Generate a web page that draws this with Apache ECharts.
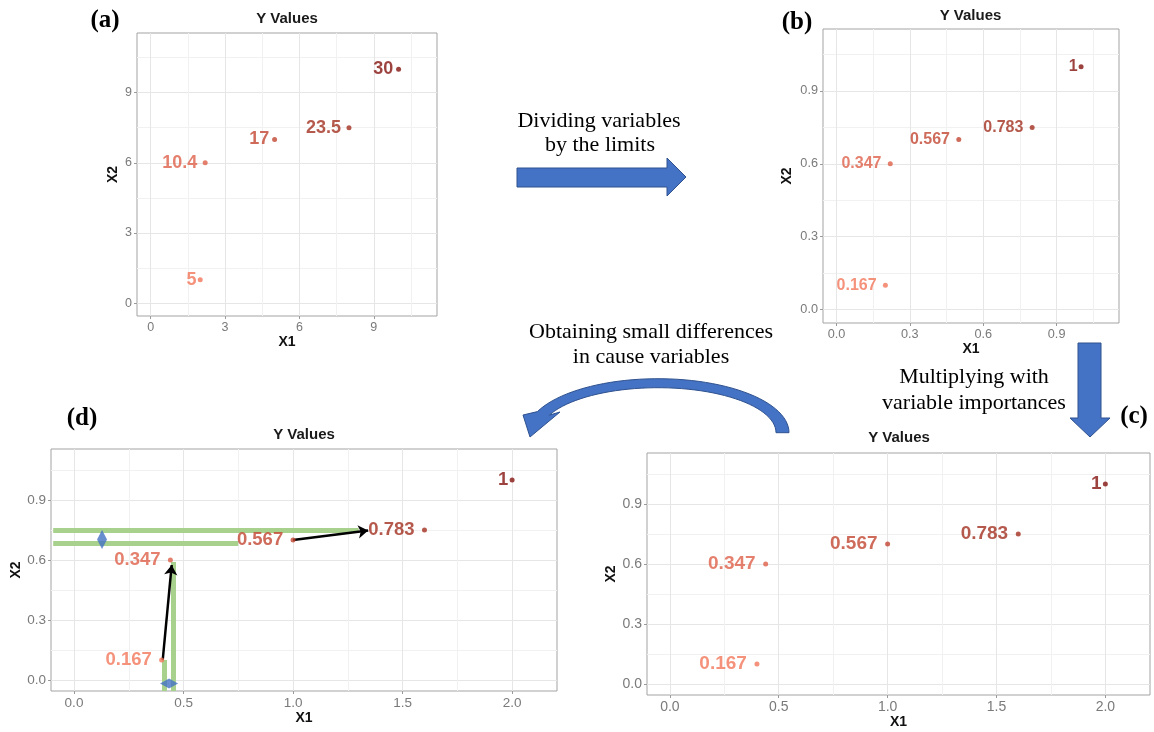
<!DOCTYPE html>
<html>
<head>
<meta charset="utf-8">
<script src="https://cdn.jsdelivr.net/npm/echarts@6/dist/echarts.min.js"></script>
<style>
  html, body { margin: 0; padding: 0; background: #fff; }
  #chart { width: 1154px; height: 732px; }
</style>
</head>
<body>
<div id="chart"></div>
<script>
// ---- Observations: original scale (a) ----
const x1Raw = [2, 2.2, 5, 8, 10];
const x2Raw = [1, 6, 7, 7.5, 10];
const yRaw = [5, 10.4, 17, 23.5, 30];

// ---- Divided by the variable limits (b) ----
const x1Scaled = [0.2, 0.22, 0.5, 0.8, 1];
const x2Scaled = [0.1, 0.6, 0.7, 0.75, 1];
const yScaled = [0.167, 0.347, 0.567, 0.783, 1];

// ---- Multiplied by variable importances (c, d) ----
const x1Weighted = [0.4, 0.44, 1, 1.6, 2];
const x2Weighted = [0.1, 0.6, 0.7, 0.75, 1];

// ---- Tick values ----
const ticksRaw = [0, 3, 6, 9];
const ticksUnit = [0, 0.3, 0.6, 0.9];
const ticksWide = [0, 0.5, 1, 1.5, 2];

// ---- Axis limits (data range plus 5% padding) ----
const limRaw = [-0.55, 11.55];
const limUnit = [-0.055, 1.155];
const limWide = [-0.105, 2.205];

// ---- Panel (d): neighbour differences ----
const guideLines = [
  [[-0.095, 0.75], [1.30, 0.75]],
  [[-0.095, 0.685], [0.75, 0.685]],
  [[0.453, 0.59], [0.453, -0.055]],
  [[0.411, 0.10], [0.411, -0.055]]
];
const shiftArrows = [
  [[0.405, 0.10], [0.446, 0.575]],
  [[1.0, 0.70], [1.343, 0.747]]
];
const gapMarks = [[0.128, 0.703], [0.434, -0.017]];

// colour per Y level, light (low) to dark (high)
const levelColors = ['#F2775A', '#DD6048', '#C24632', '#A33021', '#85140F'];

const SANS = '"Liberation Sans", Arial, sans-serif';
const SERIF = '"Liberation Serif", "Times New Roman", serif';

const measureCtx = document.createElement('canvas').getContext('2d');
function labelGap(text, size) {
  measureCtx.font = 'bold ' + size + 'px ' + SANS;
  const w = measureCtx.measureText(text).width;
  return Math.max(0, 2 + 0.17 * w - 2.5);
}

const grids = [
  { left: 137, top: 33, width: 300, height: 283 },
  { left: 823, top: 29, width: 296, height: 294 },
  { left: 647, top: 453, width: 503, height: 242 },
  { left: 51, top: 449, width: 506, height: 242 }
].map(g => Object.assign({ show: true, borderColor: '#a3a3a3', borderWidth: 1, backgroundColor: '#fff' }, g));

function valueAxis(gi, lim, ticks, split, decimals, name, nameGap, tickFont) {
  return {
    type: 'value', gridIndex: gi, min: lim[0], max: lim[1], splitNumber: split,
    axisLine: { show: false, onZero: false },
    axisTick: { show: true, length: 3, lineStyle: { color: '#9a9a9a' }, customValues: ticks },
    axisLabel: {
      color: '#7a7a7a', fontSize: tickFont, fontFamily: SANS, margin: 5,
      customValues: ticks, formatter: v => Number(v).toFixed(decimals)
    },
    splitLine: { show: true, lineStyle: { color: '#E6E6E6', width: 1 } },
    minorTick: { show: false, splitNumber: 2 },
    minorSplitLine: { show: true, lineStyle: { color: '#F1F1F1', width: 1 } },
    name: name, nameLocation: 'middle', nameGap: nameGap,
    nameTextStyle: { fontFamily: SANS, fontWeight: 'bold', fontSize: 14, color: '#111' }
  };
}

const xAxes = [
  valueAxis(0, limRaw, ticksRaw, 4, 0, 'X1', 19, 12.5),
  valueAxis(1, limUnit, ticksUnit, 4, 1, 'X1', 19, 12.7),
  valueAxis(2, limWide, ticksWide, 5, 1, 'X1', 18, 14),
  valueAxis(3, limWide, ticksWide, 5, 1, 'X1', 19, 13.5)
];
const yAxes = [
  valueAxis(0, limRaw, ticksRaw, 4, 0, 'X2', 17, 12.5),
  valueAxis(1, limUnit, ticksUnit, 4, 1, 'X2', 29, 12.7),
  valueAxis(2, limUnit, ticksUnit, 4, 1, 'X2', 28, 14),
  valueAxis(3, limUnit, ticksUnit, 4, 1, 'X2', 27, 13.5)
];

function pointSeries(gi, xs, ys, vals, fontSize) {
  return {
    type: 'scatter', xAxisIndex: gi, yAxisIndex: gi, symbolSize: 5, z: 6, silent: true,
    data: xs.map((x, i) => ({
      value: [x, ys[i], vals[i]],
      itemStyle: { color: levelColors[i] },
      label: { color: levelColors[i], distance: labelGap(String(vals[i]), fontSize) }
    })),
    label: {
      show: true, position: 'left', fontSize: fontSize, fontWeight: 'bold', fontFamily: SANS,
      formatter: p => String(p.value[2])
    }
  };
}

const series = [
  pointSeries(0, x1Raw, x2Raw, yRaw, 18),
  pointSeries(1, x1Scaled, x2Scaled, yScaled, 16),
  pointSeries(2, x1Weighted, x2Weighted, yScaled, 19),
  pointSeries(3, x1Weighted, x2Weighted, yScaled, 18.5),
  {
    type: 'lines', coordinateSystem: 'cartesian2d', xAxisIndex: 3, yAxisIndex: 3, z: 2, silent: true,
    symbol: 'none',
    lineStyle: { color: '#A9D18E', width: 5, opacity: 1, cap: 'butt' },
    data: guideLines.map(c => ({ coords: c }))
  },
  {
    type: 'lines', coordinateSystem: 'cartesian2d', xAxisIndex: 3, yAxisIndex: 3, z: 4, silent: true,
    symbol: ['none', 'arrow'], symbolSize: 10,
    lineStyle: { color: '#000', width: 2.5, opacity: 1 },
    data: shiftArrows.map(c => ({ coords: c }))
  },
  {
    type: 'scatter', xAxisIndex: 3, yAxisIndex: 3, z: 5, silent: true, symbol: 'diamond',
    itemStyle: { color: '#4472C4' },
    data: [
      { value: gapMarks[0], symbolSize: [10, 19] },
      { value: gapMarks[1], symbolSize: [18, 10] }
    ]
  }
];

// ---- annotation shapes ----
const arrowFill = '#4472C4', arrowStroke = '#2F528F';

function curvedArrowPoints() {
  const cx = 658, cy = 432.7, ro = [131, 54], ri = [118, 45];
  const end = 157 * Math.PI / 180;
  const outer = [], inner = [];
  for (let k = 0; k <= 48; k++) {
    const t = end * k / 48;
    outer.push([cx + ro[0] * Math.cos(t), cy - ro[1] * Math.sin(t)]);
    inner.push([cx + ri[0] * Math.cos(t), cy - ri[1] * Math.sin(t)]);
  }
  return outer.concat([[523, 415], [530, 437], [560, 412]], inner.reverse());
}

function txt(text, x, y, font, fill) {
  return {
    type: 'text', x: x, y: y, silent: true,
    style: { text: text, font: font, fill: fill || '#000', align: 'center', verticalAlign: 'middle' }
  };
}

const captionFont = '22px ' + SERIF;
const letterFont = 'bold 25px ' + SERIF;
const titleFont = 'bold 15px ' + SANS;

const graphic = [
  { type: 'polygon', silent: true, shape: { points: [[517, 168], [667, 168], [667, 158], [686, 177], [667, 196], [667, 187], [517, 187]] },
    style: { fill: arrowFill, stroke: arrowStroke, lineWidth: 1 } },
  { type: 'polygon', silent: true, shape: { points: [[1078, 343], [1101, 343], [1101, 418], [1110, 418], [1090, 437], [1070, 418], [1078, 418]] },
    style: { fill: arrowFill, stroke: arrowStroke, lineWidth: 1 } },
  { type: 'polygon', silent: true, shape: { points: curvedArrowPoints() },
    style: { fill: arrowFill, stroke: arrowStroke, lineWidth: 1 } },
  txt('Dividing variables', 599, 121, captionFont),
  txt('by the limits', 600, 145, captionFont),
  txt('Obtaining small differences', 651, 332, captionFont),
  txt('in cause variables', 651, 357, captionFont),
  txt('Multiplying with', 974, 377, captionFont),
  txt('variable importances', 974, 403, captionFont),
  txt('(a)', 105, 21, letterFont),
  txt('(b)', 797, 22.5, letterFont),
  txt('(c)', 1134, 416.5, letterFont),
  txt('(d)', 82, 419, letterFont),
  txt('Y Values', 287, 19, titleFont, '#1a1a1a'),
  txt('Y Values', 970.5, 15.5, titleFont, '#1a1a1a'),
  txt('Y Values', 899, 438, titleFont, '#1a1a1a'),
  txt('Y Values', 304, 435, titleFont, '#1a1a1a')
];

const chart = echarts.init(document.getElementById('chart'), null, { renderer: 'canvas' });
chart.setOption({
  backgroundColor: '#fff',
  animation: false,
  grid: grids,
  xAxis: xAxes,
  yAxis: yAxes,
  series: series,
  graphic: graphic
});
</script>
</body>
</html>
